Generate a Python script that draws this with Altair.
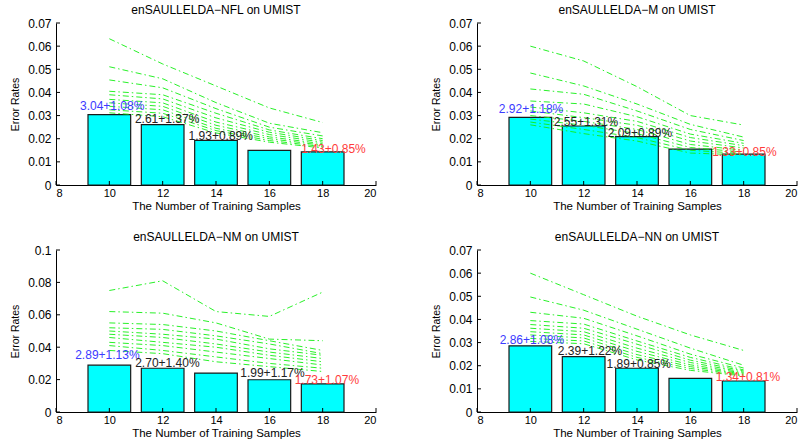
import altair as alt
import pandas as pd

samples = [10, 12, 14, 16, 18]

titles = [
    "enSAULLELDA\u2212NFL on UMIST",
    "enSAULLELDA\u2212M on UMIST",
    "enSAULLELDA\u2212NM on UMIST",
    "enSAULLELDA\u2212NN on UMIST",
]

y_max = [0.07, 0.07, 0.1, 0.07]
y_ticks = [
    [0, 0.01, 0.02, 0.03, 0.04, 0.05, 0.06, 0.07],
    [0, 0.01, 0.02, 0.03, 0.04, 0.05, 0.06, 0.07],
    [0, 0.02, 0.04, 0.06, 0.08, 0.1],
    [0, 0.01, 0.02, 0.03, 0.04, 0.05, 0.06, 0.07],
]
x_ticks = [8, 10, 12, 14, 16, 18, 20]

# mean error rates (bars)
bars_nfl = [0.0304, 0.0261, 0.0193, 0.0150, 0.0143]
bars_m = [0.0292, 0.0255, 0.0209, 0.0155, 0.0133]
bars_nm = [0.0289, 0.0270, 0.0240, 0.0199, 0.0173]
bars_nn = [0.0286, 0.0239, 0.0189, 0.0145, 0.0134]
bar_rates = [bars_nfl, bars_m, bars_nm, bars_nn]

# individual runs (green dash-dot lines), one list per run
lines_nfl = [
    [0.0632, 0.0523, 0.0428, 0.0333, 0.0270],
    [0.0511, 0.0459, 0.0356, 0.0267, 0.0226],
    [0.0454, 0.0420, 0.0330, 0.0250, 0.0212],
    [0.0405, 0.0390, 0.0310, 0.0238, 0.0200],
    [0.0390, 0.0372, 0.0290, 0.0228, 0.0192],
    [0.0370, 0.0355, 0.0272, 0.0218, 0.0185],
    [0.0355, 0.0340, 0.0258, 0.0208, 0.0178],
    [0.0340, 0.0325, 0.0245, 0.0200, 0.0172],
    [0.0325, 0.0310, 0.0235, 0.0192, 0.0166],
    [0.0312, 0.0295, 0.0225, 0.0185, 0.0160],
]
lines_m = [
    [0.0600, 0.0536, 0.0425, 0.0300, 0.0259],
    [0.0484, 0.0428, 0.0350, 0.0262, 0.0207],
    [0.0415, 0.0392, 0.0320, 0.0240, 0.0192],
    [0.0363, 0.0350, 0.0295, 0.0220, 0.0180],
    [0.0337, 0.0312, 0.0275, 0.0205, 0.0170],
    [0.0320, 0.0291, 0.0258, 0.0190, 0.0160],
    [0.0300, 0.0275, 0.0240, 0.0175, 0.0150],
    [0.0285, 0.0258, 0.0222, 0.0162, 0.0142],
    [0.0272, 0.0240, 0.0205, 0.0150, 0.0136],
    [0.0260, 0.0222, 0.0190, 0.0138, 0.0130],
]
lines_nm = [
    [0.075, 0.081, 0.062, 0.059, 0.074],
    [0.062, 0.061, 0.055, 0.045, 0.044],
    [0.055, 0.054, 0.050, 0.044, 0.038],
    [0.052, 0.051, 0.047, 0.042, 0.036],
    [0.050, 0.048, 0.045, 0.039, 0.035],
    [0.048, 0.046, 0.042, 0.037, 0.033],
    [0.046, 0.043, 0.040, 0.035, 0.031],
    [0.043, 0.041, 0.037, 0.033, 0.029],
    [0.041, 0.038, 0.034, 0.030, 0.027],
    [0.038, 0.036, 0.031, 0.028, 0.025],
]
lines_nn = [
    [0.0600, 0.0507, 0.0414, 0.0333, 0.0266],
    [0.0497, 0.0440, 0.0358, 0.0276, 0.0202],
    [0.0431, 0.0405, 0.0329, 0.0250, 0.0190],
    [0.0395, 0.0380, 0.0307, 0.0236, 0.0182],
    [0.0378, 0.0362, 0.0293, 0.0224, 0.0177],
    [0.0362, 0.0347, 0.0276, 0.0214, 0.0172],
    [0.0347, 0.0333, 0.0262, 0.0204, 0.0168],
    [0.0333, 0.0320, 0.0248, 0.0196, 0.0164],
    [0.0318, 0.0307, 0.0236, 0.0188, 0.0160],
    [0.0305, 0.0295, 0.0225, 0.0180, 0.0156],
]
run_lines = [lines_nfl, lines_m, lines_nm, lines_nn]

# annotations: text, anchor (data units), kind
label_text = [
    ["3.04+1.08%", "2.61+1.37%", "1.93+0.89%", "1.43+0.85%"],
    ["2.92+1.18%", "2.55+1.31%", "2.09+0.89%", "1.33+0.85%"],
    ["2.89+1.13%", "2.70+1.40%", "1.99+1.17%", "1.73+1.07%"],
    ["2.86+1.08%", "2.39+1.22%", "1.89+0.85%", "1.34+0.81%"],
]
label_x = [
    [8.90, 10.96, 12.97, 17.20],
    [8.82, 10.88, 12.90, 16.82],
    [8.72, 10.97, 14.91, 16.95],
    [8.85, 11.03, 12.86, 16.95],
]
label_y = [
    [0.0341, 0.0285, 0.0212, 0.0156],
    [0.0328, 0.0273, 0.0226, 0.0144],
    [0.0352, 0.0300, 0.0239, 0.0198],
    [0.0309, 0.0263, 0.0206, 0.0152],
]
label_kind = ["best", "mid", "mid", "worst"]

FONT = "Liberation Sans"
W, H = 320, 162


def panel(i):
    xs = alt.Scale(domain=[8, 20], nice=False, zero=False)
    ys = alt.Scale(domain=[0, y_max[i]], nice=False)
    x_axis = alt.Axis(
        values=x_ticks, format="d", tickSize=0, grid=False,
        title="The Number of Training Samples", titleFontSize=11.5,
        titleFontWeight="normal", titlePadding=2, labelPadding=2,
        labelFontSize=11, labelColor="#000", titleColor="#000",
        domainColor="#000", labelFont=FONT, titleFont=FONT)
    y_axis = alt.Axis(
        values=y_ticks[i], format=".2~f", tickSize=0, grid=False,
        title="Error Rates", titleFontSize=10.5, titleFontWeight="normal",
        titlePadding=7, labelPadding=5, labelFontSize=12,
        labelColor="#000", titleColor="#000", domainColor="#000",
        labelFont=FONT, titleFont=FONT)

    def X(f):
        return alt.X(f, scale=xs, axis=x_axis, title="The Number of Training Samples")

    def Y(f):
        return alt.Y(f, scale=ys, axis=y_axis, title="Error Rates")

    bars_df = pd.DataFrame({"n": samples, "rate": bar_rates[i]})
    rows = []
    for k, run in enumerate(run_lines[i]):
        for n, v in zip(samples, run):
            rows.append({"n": n, "value": v, "run": k})
    lines_df = pd.DataFrame(rows)
    lab_df = pd.DataFrame({
        "lx": label_x[i], "ly": label_y[i],
        "text": label_text[i], "kind": label_kind,
    })
    yt_df = pd.DataFrame({"v": y_ticks[i]})
    xt_df = pd.DataFrame({"v": x_ticks})

    bars = alt.Chart(bars_df).transform_calculate(
        x0="datum.n - 0.8", x1="datum.n + 0.8"
    ).mark_bar(color="#00ffff", stroke="#1a1a1a", strokeWidth=1.2).encode(
        x=X("x0:Q"), x2="x1:Q",
        y=Y("rate:Q"), y2=alt.datum(0),
    )

    lines = alt.Chart(lines_df).mark_line(
        color="#11ee11", strokeDash=[6, 3, 1.5, 3], strokeWidth=0.9
    ).encode(
        x=X("n:Q"), y=Y("value:Q"), detail="run:N",
    )

    labels = alt.Chart(lab_df).mark_text(
        align="left", baseline="middle", fontSize=12, font=FONT
    ).encode(
        x=X("lx:Q"), y=Y("ly:Q"),
        text="text:N",
        color=alt.Color("kind:N", scale=alt.Scale(
            domain=["best", "mid", "worst"],
            range=["#3b3bff", "#222222", "#ff3b3b"]), legend=None),
    )

    yticks = alt.Chart(yt_df).mark_rule(color="#000").encode(
        y=Y("v:Q"), x=alt.value(0), x2=alt.value(4),
    )
    xticks = alt.Chart(xt_df).mark_rule(color="#000").encode(
        x=X("v:Q"), y=alt.value(H), y2=alt.value(H - 4),
    )

    return alt.layer(bars, lines, labels, yticks, xticks).properties(
        width=W, height=H,
        title=alt.TitleParams(titles[i], fontSize=12, fontWeight="normal",
                              font=FONT, color="#000", offset=0),
    )


chart = alt.concat(
    panel(0), panel(1), panel(2), panel(3),
    columns=2, spacing={"row": 65, "column": 101}, bounds="flush",
).properties(
    padding={"left": 10, "top": 4, "right": 0, "bottom": 0},
    background="white",
).configure(font=FONT).configure_view(stroke=None)

chart.save("out.html", embed_options={"renderer": "svg", "actions": False})
